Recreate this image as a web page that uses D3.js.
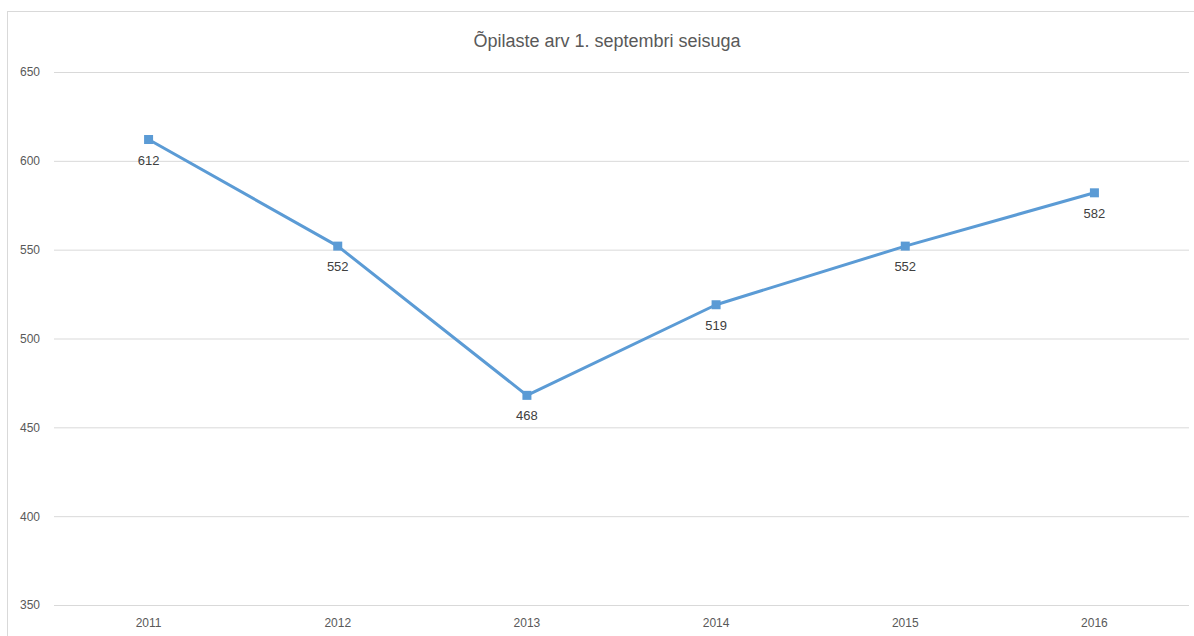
<!DOCTYPE html>
<html>
<head>
<meta charset="utf-8">
<script src="https://cdn.jsdelivr.net/npm/d3@7"></script>
<style>
  body { margin: 0; background: #fff; overflow: hidden; }
  svg { display: block; font-family: "Liberation Sans", "DejaVu Sans", sans-serif; }
</style>
</head>
<body>
<div id="chart"></div>
<script>
// andmed
const years = ['2011', '2012', '2013', '2014', '2015', '2016'];
const students = [612, 552, 468, 519, 552, 582];
const yTicks = [350, 400, 450, 500, 550, 600, 650];
const title = 'Õpilaste arv 1. septembri seisuga';

const width = 1194, height = 636;
const margin = { top: 72, left: 54, right: 5, bottom: 31 };

const svg = d3.select('#chart').append('svg')
    .attr('width', width)
    .attr('height', height);

// chart border (bottom/right run off the page like in the screenshot)
svg.append('rect')
    .attr('x', 7.5).attr('y', 11.5)
    .attr('width', 1200).attr('height', 700)
    .attr('fill', 'none')
    .attr('stroke', '#d9d9d9');

const x = d3.scaleBand()
    .domain(years)
    .range([margin.left, width - margin.right]);

const y = d3.scaleLinear()
    .domain([350, 650])
    .range([height - margin.bottom, margin.top]);

// grid + y labels
const yAxis = svg.append('g')
    .attr('transform', `translate(${margin.left},0)`)
    .call(d3.axisLeft(y).tickValues(yTicks).tickSize(-(width - margin.left - margin.right)).tickPadding(14));
yAxis.select('.domain').remove();
yAxis.selectAll('.tick line').attr('stroke', '#d9d9d9').attr('stroke-width', 1);
yAxis.selectAll('.tick text')
    .attr('fill', '#595959')
    .attr('font-size', 12);

// x labels
const xAxis = svg.append('g')
    .attr('transform', `translate(0,${height - margin.bottom})`)
    .call(d3.axisBottom(x).tickSize(0).tickPadding(13));
xAxis.select('.domain').remove();
xAxis.selectAll('.tick text')
    .attr('fill', '#595959')
    .attr('font-size', 12);

// title
svg.append('text')
    .attr('x', 607)
    .attr('y', 47)
    .attr('text-anchor', 'middle')
    .attr('fill', '#595959')
    .attr('font-size', 18)
    .text(title);

const data = years.map((yr, i) => ({ year: yr, value: students[i] }));
const cx = d => x(d.year) + x.bandwidth() / 2;

const line = d3.line()
    .x(cx)
    .y(d => y(d.value));

svg.append('path')
    .datum(data)
    .attr('fill', 'none')
    .attr('stroke', '#5b9bd5')
    .attr('stroke-width', 3)
    .attr('stroke-linejoin', 'round')
    .attr('d', line);

svg.selectAll('.marker')
    .data(data)
    .enter().append('rect')
    .attr('class', 'marker')
    .attr('x', d => cx(d) - 4.5)
    .attr('y', d => y(d.value) - 4.5)
    .attr('width', 9)
    .attr('height', 9)
    .attr('fill', '#5b9bd5');

// data labels under the points
svg.selectAll('.lbl')
    .data(data)
    .enter().append('text')
    .attr('class', 'lbl')
    .attr('x', cx)
    .attr('y', d => y(d.value) + 25)
    .attr('text-anchor', 'middle')
    .attr('fill', '#404040')
    .attr('font-size', 13)
    .text(d => d.value);
</script>
</body>
</html>
